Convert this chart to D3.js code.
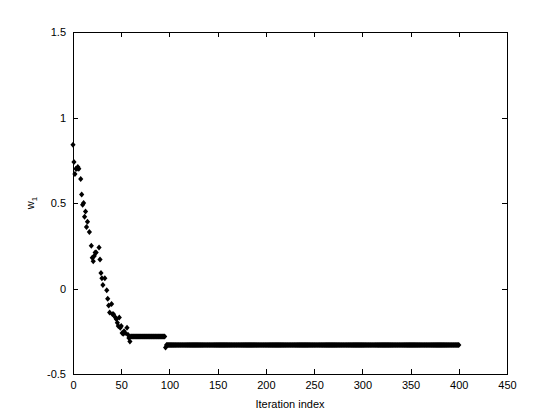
<!DOCTYPE html>
<html>
<head>
<meta charset="utf-8">
<script src="https://cdn.jsdelivr.net/npm/d3@7"></script>
<style>
html,body{margin:0;padding:0;background:#fff;}
svg{display:block;}
text{font-family:"Liberation Sans",Arial,Helvetica,sans-serif;font-size:11px;fill:#000;}
</style>
</head>
<body>
<svg id="chart" width="560" height="420"></svg>
<script>
// Early (transient) iterations
const earlyIter  = [0,1,2,3,4,5,6,8,9,10,11,12,13,14,15,17,19,20,21,22,23,24,27,28,29,30,31,33,35,36,37,38,40,41,42,44,45,46,47,48,49,50,51,52,53,54,56,57,58,59];
const earlyValue = [0.84,0.74,0.67,0.70,0.70,0.71,0.70,0.64,0.55,0.49,0.50,0.42,0.45,0.36,0.39,0.33,0.25,0.18,0.16,0.19,0.21,0.21,0.24,0.17,0.09,0.06,0.02,0.06,-0.01,-0.06,-0.10,-0.14,-0.09,-0.15,-0.15,-0.17,-0.18,-0.20,-0.22,-0.17,-0.23,-0.22,-0.26,-0.265,-0.25,-0.26,-0.23,-0.27,-0.29,-0.31];
// Plateaus: constant value held over a range of iterations
const plateauStart = [60, 96, 97];
const plateauEnd   = [95, 96, 400];
const plateauValue = [-0.28, -0.345, -0.33];

const xTicks = [0,50,100,150,200,250,300,350,400,450];
const yTicks = [-0.5,0,0.5,1,1.5];
const xLabel = "Iteration index";

const W = 560, H = 420;
const m = {left:73, right:53, top:32, bottom:46};
const svg = d3.select("#chart");

const x = d3.scaleLinear().domain([0,450]).range([m.left, W - m.right]);
const y = d3.scaleLinear().domain([-0.5,1.5]).range([H - m.bottom, m.top]);

// Build points
const pts = earlyIter.map((it,i)=>({i:it, v:earlyValue[i]}));
plateauStart.forEach((s,k)=>{
  d3.range(s, plateauEnd[k]+1).forEach(it=>pts.push({i:it, v:plateauValue[k]}));
});

// Axes
const tickLen = 5;
const xAxisB = d3.axisBottom(x).tickValues(xTicks).tickSizeInner(-tickLen).tickSizeOuter(0).tickPadding(7).tickFormat(d3.format("d"));
const xAxisT = d3.axisTop(x).tickValues(xTicks).tickSizeInner(-tickLen).tickSizeOuter(0).tickFormat("");
const yAxisL = d3.axisLeft(y).tickValues(yTicks).tickSizeInner(-tickLen).tickSizeOuter(0).tickPadding(7).tickFormat(d=>String(d));
const yAxisR = d3.axisRight(y).tickValues(yTicks).tickSizeInner(-tickLen).tickSizeOuter(0).tickFormat("");

function style(g){
  g.select(".domain").remove();
  g.selectAll(".tick line").attr("stroke","#000").attr("stroke-width",1).attr("shape-rendering","crispEdges");
  g.selectAll(".tick text").attr("font-family",null).attr("font-size",null).attr("fill","#000");
}
svg.append("g").attr("transform",`translate(0,${H-m.bottom})`).call(xAxisB).call(style);
svg.append("g").attr("transform",`translate(0,${m.top})`).call(xAxisT).call(style);
svg.append("g").attr("transform",`translate(${m.left},0)`).call(yAxisL).call(style);
svg.append("g").attr("transform",`translate(${W-m.right},0)`).call(yAxisR).call(style);

// Box
svg.append("rect")
  .attr("x", x(0)).attr("y", y(1.5))
  .attr("width", x(450)-x(0)).attr("height", y(-0.5)-y(1.5))
  .attr("fill","none").attr("stroke","#000").attr("stroke-width",1)
  .attr("shape-rendering","crispEdges");

// Markers (small filled diamonds)
const diamond = "M0,-3L2.6,0L0,3L-2.6,0Z";
svg.append("g").selectAll("path").data(pts).join("path")
  .attr("d", diamond)
  .attr("transform", d=>`translate(${x(d.i)},${y(d.v)})`)
  .attr("fill","#000");

// Labels
svg.append("text").attr("x", (x(0)+x(450))/2).attr("y", 408)
  .attr("text-anchor","middle").text(xLabel);

const yl = svg.append("text").attr("transform", `translate(34,${(y(-0.5)+y(1.5))/2}) rotate(-90)`)
  .attr("text-anchor","middle");
yl.append("tspan").text("w");
yl.append("tspan").attr("font-size","8px").attr("dy","3").text("1");
</script>
</body>
</html>
